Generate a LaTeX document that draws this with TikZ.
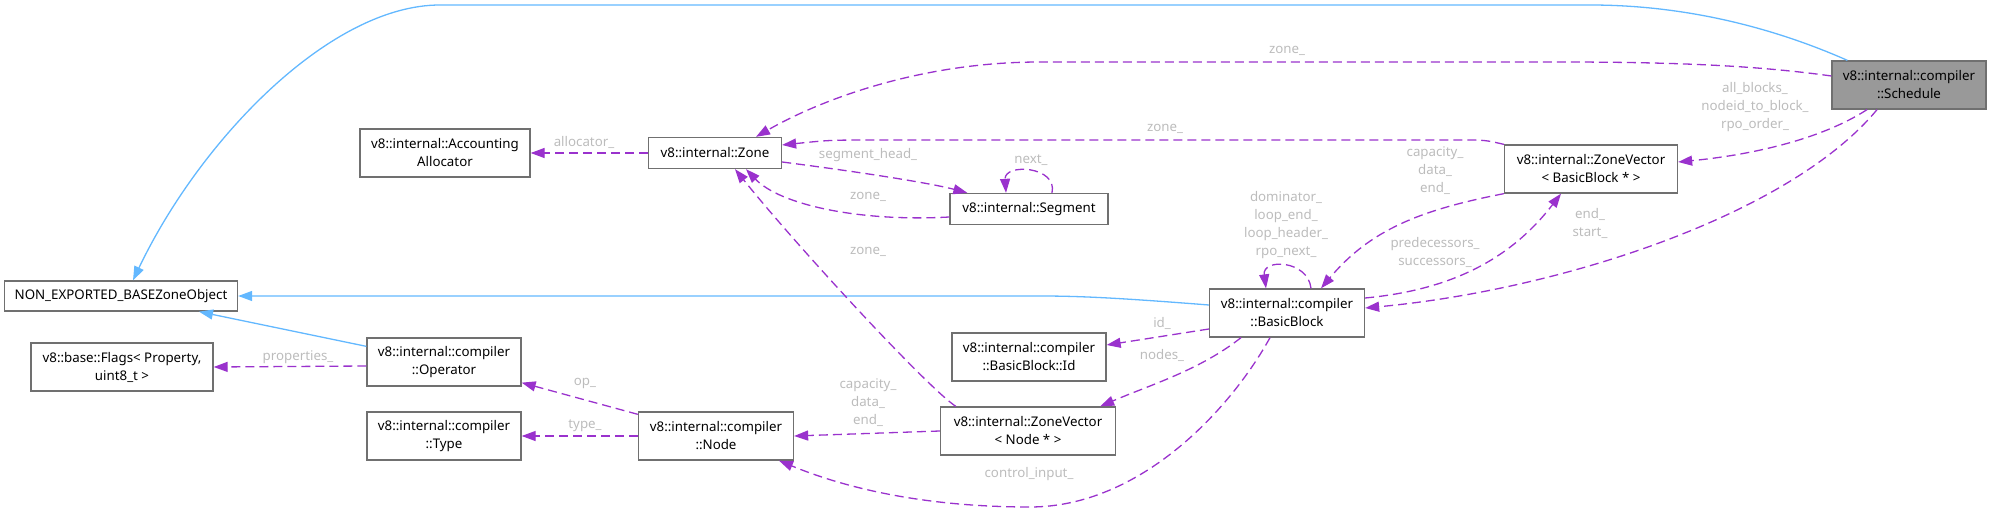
\documentclass[tikz,border=0pt]{standalone}
\usepackage{fontspec}
\setmainfont{Noto Sans}
\usetikzlibrary{arrows.meta}
\definecolor{inhcol}{RGB}{99,184,255}
\definecolor{usecol}{RGB}{154,50,205}
\definecolor{boxcol}{RGB}{112,112,112}
\definecolor{lblcol}{RGB}{188,188,188}
\definecolor{curcol}{RGB}{153,153,153}

\begin{document}
\begin{tikzpicture}[x=1pt, y=-1pt,
    font=\fontsize{13.3}{18}\selectfont,
    cls/.style={draw=boxcol, line width=1.3pt, fill=white, minimum height=48pt, align=center, inner sep=0pt},
    cur/.style={cls, fill=curcol},
    slim/.style={cls, minimum height=31pt},
    use/.style={draw=usecol, line width=1.3pt, dash pattern=on 9pt off 5pt, -{Triangle[length=14pt,width=10pt]}},
    inh/.style={draw=inhcol, line width=1.3pt, -{Triangle[length=14pt,width=10pt]}},
    lbl/.style={text=lblcol, align=center},
]
\useasboundingbox (0,0) rectangle (1992,513);

\node[cur, minimum width=154pt] (sched) at (1909,85) {v8::internal::compiler\\::Schedule};
\node[cls, minimum width=173pt] (zvbb) at (1591,169) {v8::internal::ZoneVector\\< BasicBlock * >};
\node[cls, minimum width=155pt] (bb) at (1287,313) {v8::internal::compiler\\::BasicBlock};
\node[cls, minimum width=154pt] (bbid) at (1029,357) {v8::internal::compiler\\::BasicBlock::Id};
\node[cls, minimum width=175pt] (zvnode) at (1028,431) {v8::internal::ZoneVector\\< Node * >};
\node[cls, minimum width=155pt] (node) at (716,436) {v8::internal::compiler\\::Node};
\node[cls, minimum width=154pt] (type) at (444,436) {v8::internal::compiler\\::Type};
\node[cls, minimum width=154pt] (oper) at (444,362) {v8::internal::compiler\\::Operator};
\node[cls, minimum width=182pt] (flags) at (122,367) {v8::base::Flags< Property,\\uint8\_t >};
\node[slim, minimum width=233pt, minimum height=30pt] (base) at (121,296) {NON\_EXPORTED\_BASEZoneObject};
\node[cls, minimum width=170pt] (alloc) at (445,153) {v8::internal::Accounting\\Allocator};
\node[slim, minimum width=133pt] (zone) at (715,153) {v8::internal::Zone};
\node[slim, minimum width=158pt] (segm) at (1029,209) {v8::internal::Segment};

% inheritance
\draw[inh] ([xshift=16pt]sched.north west) .. controls (1790,35) and (1700,5) .. (1590,5)
  -- (440,5) .. controls (330,5) and (200,140) .. ([xshift=12pt]base.north);
\draw[inh] ([yshift=8pt]bb.west) .. controls (1120,298) and (1080,296) .. (1040,296) -- (base.east);
\draw[inh] ([yshift=-9pt]oper.north west) -- ([xshift=78pt]base.south);

% usage
\draw[use] ([yshift=9pt]sched.west) .. controls (1760,66) and (1680,62) .. (1560,62)
  -- (1040,62) .. controls (920,62) and (820,100) .. ([xshift=41pt]zone.north);
\node[lbl] (l-sz) at (1287,51) {zone\_};

\draw[use] ([xshift=-42pt]sched.south) .. controls (1820,140) and (1750,155) .. ([yshift=7pt]zvbb.east);
\node[lbl] (l-sv) at (1755,107) {all\_blocks\_\\nodeid\_to\_block\_\\rpo\_order\_};

\draw[use] ([xshift=-32pt]sched.south) .. controls (1790,215) and (1560,290) .. ([yshift=5pt]bb.east);
\node[lbl] (l-sb) at (1590,223) {end\_\\start\_};

\draw[use] (zvbb.south west) .. controls (1420,210) and (1370,230) .. ([xshift=34pt]bb.north);
\node[lbl] (l-vb) at (1435,171) {capacity\_\\data\_\\end\_};

\draw[use] ([yshift=15pt]bb.east) .. controls (1450,290) and (1510,260) .. ([xshift=-30pt]zvbb.south);
\node[lbl] (l-bv) at (1435,252) {predecessors\_\\successors\_};

\draw[use] ([xshift=24pt]bb.north) .. controls (1308,260) and (1262,258) .. ([xshift=-21pt]bb.north);
\node[lbl] (l-bb) at (1286,225) {dominator\_\\loop\_end\_\\loop\_header\_\\rpo\_next\_};

\draw[use] (zvbb.north west) .. controls (1485,140) .. (1460,140)
  -- (880,140) .. controls (830,140) .. ([yshift=8pt]zone.east);
\node[lbl] (l-vz) at (1165,129) {zone\_};

\draw[use] (zone.west) -- (alloc.east);
\node[lbl] (l-za) at (584,142) {allocator\_};

\draw[use] ([yshift=-9pt]zone.east) .. controls (860,172) and (930,183) .. ([xshift=18pt]segm.north west);
\node[lbl] (l-zs) at (868,155) {segment\_head\_};

\draw[use] ([yshift=-8pt]segm.west) .. controls (860,222) and (780,205) .. ([xshift=31pt]zone.south);
\node[lbl] (l-sz2) at (868,197) {zone\_};

\draw[use] ([xshift=23pt]segm.north) .. controls (1058,166) and (1004,163) .. ([xshift=-23pt]segm.north);
\node[lbl] (l-ss) at (1031,160) {next\_};

\draw[use] ([xshift=16pt]zvnode.north west) .. controls (930,390) and (800,250) .. ([xshift=20pt]zone.south);
\node[lbl] (l-nz) at (868,252) {zone\_};

\draw[use] ([yshift=-4pt]oper.west) -- (flags.east);
\node[lbl] (l-of) at (298,357) {properties\_};

\draw[use] ([yshift=-3pt]node.north west) -- ([yshift=4pt]oper.south east);
\node[lbl] (l-no) at (585,383) {op\_};

\draw[use] (node.west) -- (type.east);
\node[lbl] (l-nt) at (585,426) {type\_};

\draw[use] (zvnode.west) -- (node.east);
\node[lbl] (l-vn) at (868,403) {capacity\_\\data\_\\end\_};

\draw[use] ([yshift=-16pt]bb.west) -- ([yshift=12pt]bbid.east);
\node[lbl] (l-bi) at (1162,323) {id\_};

\draw[use] ([xshift=-46pt]bb.south) .. controls (1200,370) and (1150,385) .. ([xshift=-16pt]zvnode.north east);
\node[lbl] (l-bn) at (1162,355) {nodes\_};

\draw[use] ([xshift=-17pt]bb.south) .. controls (1230,410) and (1140,507) .. (1030,507)
  .. controls (930,507) and (850,490) .. ([xshift=63pt]node.south);
\node[lbl] (l-bc) at (1029,474) {control\_input\_};
\end{tikzpicture}
\end{document}
